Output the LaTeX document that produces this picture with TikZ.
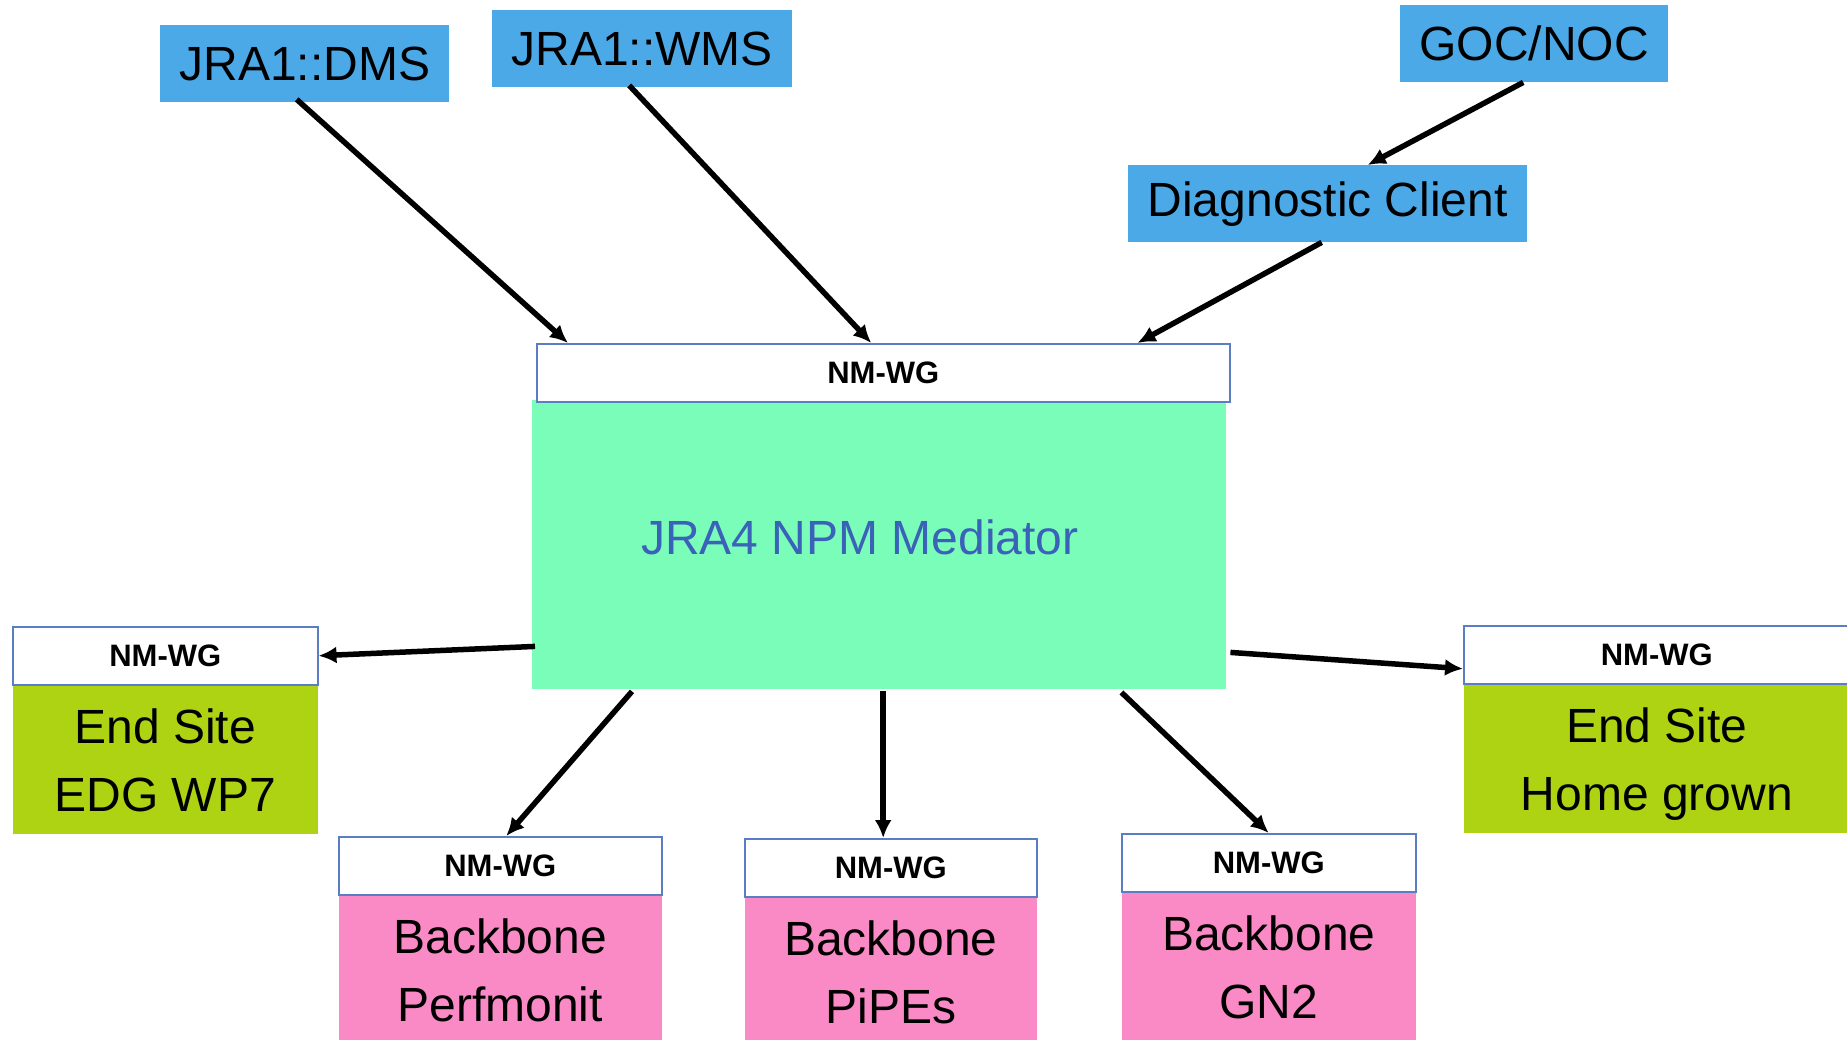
\documentclass[tikz,border=0pt]{standalone}
\usepackage{fontspec}
\setmainfont{Liberation Sans}
\usepackage{tikz}
\usetikzlibrary{calc}
\usetikzlibrary{arrows.meta}
\usetikzlibrary{positioning}
\definecolor{toolblue}{RGB}{76,169,231}
\definecolor{medgreen}{RGB}{123,253,186}
\definecolor{sitegreen}{RGB}{173,211,18}
\definecolor{bonepink}{RGB}{249,138,197}
\definecolor{nmblue}{RGB}{90,125,196}
\definecolor{medtext}{RGB}{58,98,184}
\tikzset{tool/.style={fill=toolblue,inner sep=0pt,minimum height=77pt,anchor=north west,font=\fontsize{48}{58}\selectfont}}
\tikzset{nmwg/.style={draw=nmblue,line width=1.5pt,fill=white,inner sep=0pt,minimum height=58pt,anchor=north west,font=\fontsize{31}{36}\selectfont\bfseries}}
\tikzset{site/.style={fill=sitegreen,inner sep=0pt,minimum height=148pt,align=center,text depth=0pt,font=\fontsize{48}{68}\selectfont}}
\tikzset{bone/.style={fill=bonepink,inner sep=0pt,minimum height=148pt,align=center,text depth=0pt,font=\fontsize{48}{68}\selectfont}}
\tikzset{link/.style={line width=5.5pt,-{Latex[length=18pt,width=17pt]}}}

\begin{document}
\begin{tikzpicture}[x=1pt,y=-1pt]

\useasboundingbox (0,0) rectangle (1847,1039);
\clip (0,0) rectangle (1847,1039);

% clients
\node[tool,minimum width=289pt] (dms) at (160,25) {JRA1::DMS};
\node[tool,minimum width=300pt] (wms) at (492,10) {JRA1::WMS};
\node[tool,minimum width=268pt] (goc) at (1400,5) {GOC/NOC};
\node[tool,minimum width=399pt] (diag) at (1128,165) {Diagnostic Client};

% mediator
\node[fill=medgreen,inner sep=0pt,minimum width=694pt,minimum height=289pt,anchor=north west] (mediator) at (532,400) {};
\node[nmwg,minimum width=693pt] (nmtop) at (536,343) {NM-WG};
\node[text=medtext,font=\fontsize{48}{58}\selectfont] (medlabel) at (860,537) {JRA4 NPM Mediator};

% end sites
\node[nmwg,minimum width=305pt] (leftnm) at (12,626) {NM-WG};
\node[site,minimum width=305pt,below=0pt of leftnm] (leftsite) {End Site\\EDG WP7};
\node[nmwg,minimum width=386pt] (rightnm) at (1463,625) {NM-WG};
\node[site,minimum width=386pt,below=0pt of rightnm] (rightsite) {End Site\\Home grown};

% backbones
\node[nmwg,minimum width=323pt] (perfnm) at (338,836) {NM-WG};
\node[bone,minimum width=323pt,below=0pt of perfnm] (perf) {Backbone\\Perfmonit};
\node[nmwg,minimum width=292pt] (pipesnm) at (744,838) {NM-WG};
\node[bone,minimum width=292pt,below=0pt of pipesnm] (pipes) {Backbone\\PiPEs};
\node[nmwg,minimum width=294pt] (gn2nm) at (1121,833) {NM-WG};
\node[bone,minimum width=294pt,below=0pt of gn2nm] (gn2) {Backbone\\GN2};

% links
\draw[link] ($(dms.south)+(-8,-3)$) -- ($(nmtop.north west)+(32,0)$);
\draw[link] ($(wms.south)+(-13,-2)$) -- ($(nmtop.north)+(-12,0)$);
\draw[link] ($(goc.south)+(-11,0)$) -- ($(diag.north)+(40,0)$);
\draw[link] ($(diag.south)+(-6,0)$) -- ($(nmtop.north east)+(-93,0)$);
\draw[link] ($(mediator.south west)+(3,-43)$) -- (leftnm.east);
\draw[link] ($(mediator.south east)+(4,-37)$) -- ($(rightnm.west)+(0,14)$);
\draw[link] ($(mediator.south west)+(100,2)$) -- ($(perfnm.north)+(6,0)$);
\coordinate (pipesin) at ($(mediator.south)+(4,2)$);
\draw[link] (pipesin) -- (pipesin |- pipesnm.north);
\draw[link] ($(mediator.south east)+(-105,3)$) -- (gn2nm.north);

\end{tikzpicture}
\end{document}
